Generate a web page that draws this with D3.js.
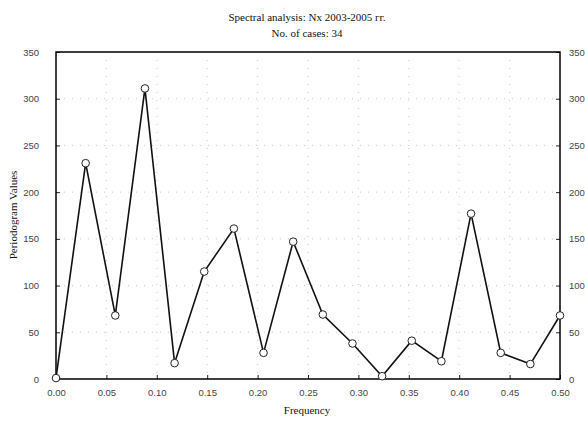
<!DOCTYPE html>
<html><head><meta charset="utf-8">
<script src="https://cdn.jsdelivr.net/npm/d3@7"></script>
<style>body{margin:0;background:#fff}svg{display:block}</style>
</head><body>
<svg id="c" width="585" height="426"></svg>
<script>
const titleLines = ["Spectral analysis: Nx 2003-2005 гг.", "No. of cases: 34"];
const xLabel = "Frequency";
const yLabel = "Periodogram Values";
const frequencies = [0/34,1/34,2/34,3/34,4/34,5/34,6/34,7/34,8/34,9/34,10/34,11/34,12/34,13/34,14/34,15/34,16/34,17/34];
const periodogram = [1,231,68,311,17,115,161,28,147,69,38,3,41,19,177,28,16,68];
const xTicks = [0,0.05,0.10,0.15,0.20,0.25,0.30,0.35,0.40,0.45,0.50];
const yTicks = [0,50,100,150,200,250,300,350];

const svg = d3.select("#c");
const L=56,R=560,T=52,B=379;
const x = d3.scaleLinear().domain([0,0.5]).range([L,R]);
const y = d3.scaleLinear().domain([0,350]).range([B,T]);

// grid
svg.append("g").selectAll("line").data(yTicks.slice(1,-1)).join("line")
  .attr("x1",L).attr("x2",R).attr("y1",d=>y(d)).attr("y2",d=>y(d))
  .attr("stroke","#c8c8c8").attr("stroke-width",1).attr("stroke-dasharray","1,7");
svg.append("g").selectAll("line").data(xTicks.slice(1,-1)).join("line")
  .attr("y1",T).attr("y2",B).attr("x1",d=>x(d)).attr("x2",d=>x(d))
  .attr("stroke","#c8c8c8").attr("stroke-width",1).attr("stroke-dasharray","1,7");

const font = "'Liberation Sans', Arial, sans-serif";
// axes
const gx = svg.append("g").attr("transform",`translate(0,${B})`)
  .call(d3.axisBottom(x).tickValues(xTicks).tickFormat(d3.format(".2f")).tickSizeInner(-4).tickSizeOuter(0).tickPadding(10));
const gl = svg.append("g").attr("transform",`translate(${L},0)`)
  .call(d3.axisLeft(y).tickValues(yTicks).tickSizeInner(-4).tickSizeOuter(0).tickPadding(17));
const gr = svg.append("g").attr("transform",`translate(${R},0)`)
  .call(d3.axisRight(y).tickValues(yTicks).tickSizeInner(-4).tickSizeOuter(0).tickPadding(9));
[gx,gl,gr].forEach(g=>{
  g.select(".domain").remove();
  g.selectAll("text").attr("font-family",font).attr("font-size",9.5).attr("fill","#444");
  g.selectAll("line").attr("stroke","#222");
});
// frame
svg.append("rect").attr("x",L).attr("y",T).attr("width",R-L).attr("height",B-T)
  .attr("fill","none").attr("stroke","#000").attr("stroke-width",1.5);

// line
const pts = frequencies.map((f,i)=>[f,periodogram[i]]);
svg.append("path").datum(pts)
  .attr("d",d3.line().x(d=>x(d[0])).y(d=>y(d[1])))
  .attr("fill","none").attr("stroke","#111").attr("stroke-width",1.6);
svg.append("g").selectAll("circle").data(pts).join("circle")
  .attr("cx",d=>x(d[0])).attr("cy",d=>y(d[1])).attr("r",3.8)
  .attr("fill","#fff").attr("stroke","#222").attr("stroke-width",1);

// titles
const serif = "'Liberation Serif','Times New Roman',serif";
svg.append("g").selectAll("text").data(titleLines).join("text")
  .attr("x",307).attr("y",(d,i)=>21+i*16).attr("text-anchor","middle")
  .attr("font-family",serif).attr("font-size",11).attr("fill","#111").text(d=>d);
svg.append("text").attr("x",307).attr("y",414).attr("text-anchor","middle")
  .attr("font-family",serif).attr("font-size",11).attr("fill","#111").text(xLabel);
svg.append("text").attr("transform","translate(17,215) rotate(-90)").attr("text-anchor","middle")
  .attr("font-family",serif).attr("font-size",11).attr("fill","#111").text(yLabel);
</script>
</body></html>
